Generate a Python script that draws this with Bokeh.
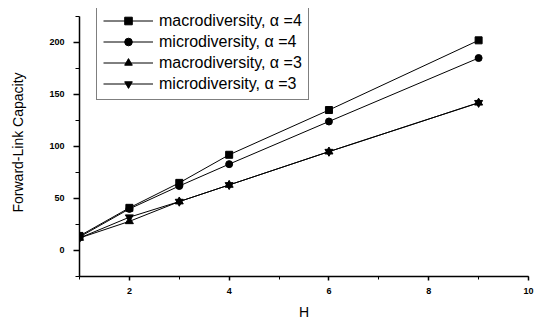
from bokeh.plotting import figure
from bokeh.models import Range1d, SingleIntervalTicker, Legend, LegendItem
from bokeh.embed import file_html
from bokeh.resources import INLINE

# Data
H = [1, 2, 3, 4, 6, 9]
macro_a4 = [14, 41, 65, 92, 135, 202]
micro_a4 = [13, 40, 62, 83, 124, 185]
macro_a3 = [12, 28, 47, 63, 95, 142]
micro_a3 = [12, 32, 47, 63, 95, 142]

labels = ["macrodiversity, \u03b1 =4", "microdiversity, \u03b1 =4",
          "macrodiversity, \u03b1 =3", "microdiversity, \u03b1 =3"]
series = [macro_a4, micro_a4, macro_a3, micro_a3]
markers = ["square", "circle", "triangle", "inverted_triangle"]
sizes = [7, 7, 8, 8]

FONT = "Liberation Sans"

p = figure(width=535, height=322, output_backend="svg", toolbar_location=None,
           x_range=Range1d(1, 10), y_range=Range1d(-25, 232.6),
           min_border_left=79, min_border_right=7, min_border_top=8, min_border_bottom=44)
p.outline_line_color = None
p.xgrid.visible = False
p.ygrid.visible = False
p.background_fill_color = "white"
p.border_fill_color = "white"

items = []
for ys, lab, mk, sz in zip(series, labels, markers, sizes):
    r1 = p.line(H, ys, line_color="black", line_width=1)
    r2 = p.scatter(H, ys, marker=mk, size=sz, fill_color="black", line_color="black")
    items.append(LegendItem(label=lab, renderers=[r1, r2]))

legend = Legend(items=items, location=(17, 176))
legend.label_text_font = FONT
legend.label_text_font_size = "16px"
legend.label_text_color = "black"
legend.glyph_width = 50
legend.glyph_height = 19
legend.label_height = 19
legend.spacing = 2
legend.padding = 6
legend.label_standoff = 6
legend.border_line_color = "black"
legend.border_line_width = 1
legend.background_fill_color = "white"
legend.background_fill_alpha = 1
legend.margin = 0
p.add_layout(legend, "center")

xa = p.xaxis[0]
xa.ticker = SingleIntervalTicker(interval=2, num_minor_ticks=2)
xa.axis_label = "H"
xa.axis_label_text_font = FONT
xa.axis_label_text_font_size = "14px"
xa.axis_label_text_font_style = "normal"
xa.axis_label_standoff = 7
xa.major_label_text_font = FONT
xa.major_label_text_font_size = "9px"
xa.major_label_text_font_style = "bold"
xa.major_label_standoff = 7
xa.major_tick_in = 0
xa.major_tick_out = 4
xa.minor_tick_in = 0
xa.minor_tick_out = 3
xa.axis_line_width = 1.5
xa.major_tick_line_width = 1.5

ya = p.yaxis[0]
ya.ticker = SingleIntervalTicker(interval=50, num_minor_ticks=2)
ya.bounds = (-25, 225)
ya.axis_label = "Forward-Link Capacity"
ya.axis_label_text_font = FONT
ya.axis_label_text_font_size = "14px"
ya.axis_label_text_font_style = "normal"
ya.axis_label_standoff = 20
ya.major_label_text_font = FONT
ya.major_label_text_font_size = "9px"
ya.major_label_text_font_style = "bold"
ya.major_label_standoff = 9
ya.major_tick_in = 0
ya.major_tick_out = 6
ya.minor_tick_in = 0
ya.minor_tick_out = 4
ya.axis_line_width = 1.5
ya.major_tick_line_width = 1.5

for ax in (xa, ya):
    ax.axis_line_color = "black"
    ax.major_tick_line_color = "black"
    ax.minor_tick_line_color = "black"
    ax.major_label_text_color = "black"
    ax.axis_label_text_color = "black"

open("out.html", "w").write(file_html(p, INLINE))
